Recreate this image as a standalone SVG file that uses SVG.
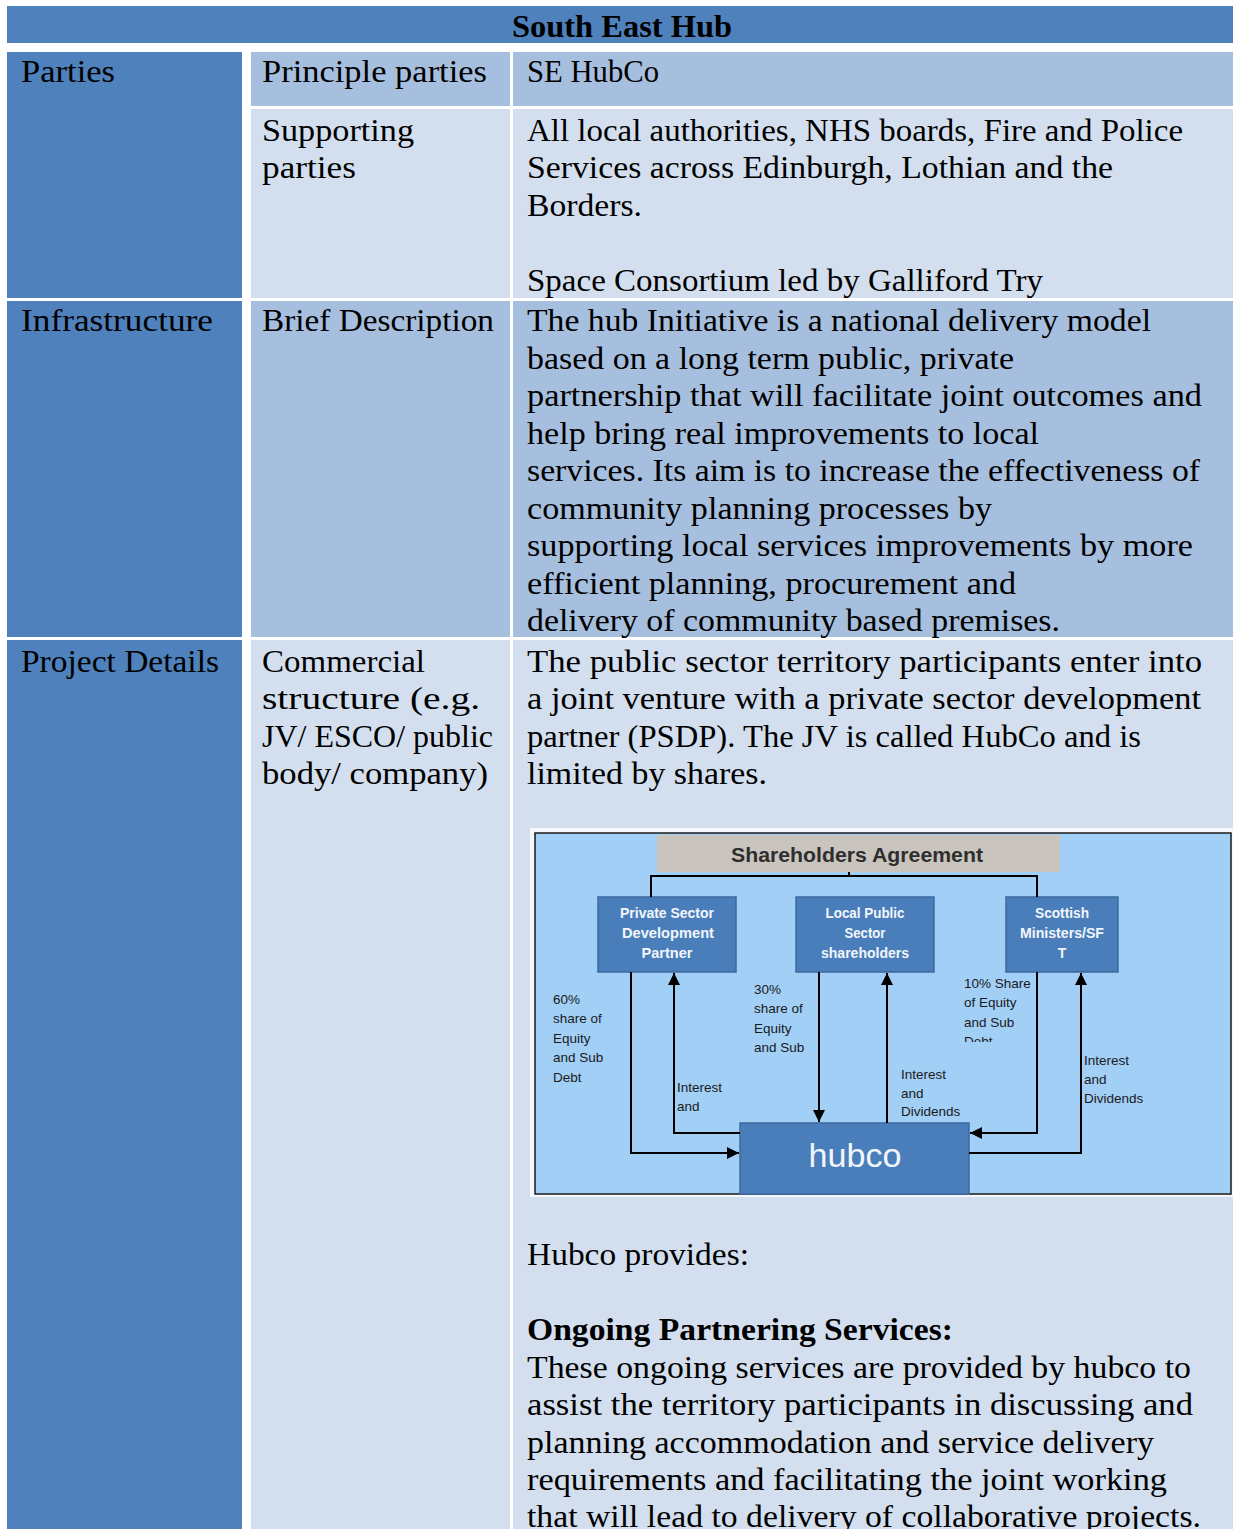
<svg xmlns="http://www.w3.org/2000/svg" width="1233" height="1529" viewBox="0 0 1233 1529">
  <style>
    .dark { fill: #4f81bd; }
    .mid { fill: #a7bfde; }
    .light { fill: #d3dfee; }
    .t { font-family: "Liberation Serif", "DejaVu Serif", serif; font-size: 32px; fill: #000; }
    .tb { font-family: "Liberation Serif", "DejaVu Serif", serif; font-size: 32px; font-weight: bold; fill: #000; }
    .box { fill: #4a7ebb; stroke: #3c699f; stroke-width: 1.5; }
    .bl { font-family: "Liberation Sans", Arial, sans-serif; font-size: 14px; font-weight: bold; fill: #f2f6fb; text-anchor: middle; }
    .lb { font-family: "Liberation Sans", Arial, sans-serif; font-size: 13.5px; fill: #1a1a1a; }
    .wire { fill: none; stroke: #000; stroke-width: 2; }
  </style>
  <defs>
    <marker id="ah" viewBox="0 0 10 10" refX="10" refY="5" markerWidth="6" markerHeight="6" orient="auto">
      <path d="M0,0 L10,5 L0,10 z" fill="#000"/>
    </marker>
    <clipPath id="clipDebt">
      <rect x="955" y="1030" width="80" height="12"/>
    </clipPath>
  </defs>

  <rect width="1233" height="1529" fill="#ffffff"/>

  <!-- Title bar -->
  <g id="title">
    <rect class="dark" x="7" y="6" width="1226" height="37"/>
    <text class="tb" x="622" y="37" text-anchor="middle" font-size="30" textLength="220" lengthAdjust="spacingAndGlyphs">South East Hub</text>
  </g>

  <!-- Parties -->
  <g id="parties">
    <rect class="dark" x="7" y="52" width="235" height="246"/>
    <text class="t" x="21" y="82" textLength="94" lengthAdjust="spacingAndGlyphs">Parties</text>
  </g>
  <g id="principle-parties">
    <rect class="mid" x="251" y="52" width="259" height="54"/>
    <rect class="mid" x="513" y="52" width="720" height="54"/>
    <text class="t" x="262" y="82" textLength="225" lengthAdjust="spacingAndGlyphs">Principle parties</text>
    <text class="t" x="527" y="82" textLength="132" lengthAdjust="spacingAndGlyphs">SE HubCo</text>
  </g>
  <g id="supporting-parties">
    <rect class="light" x="251" y="109" width="259" height="189"/>
    <rect class="light" x="513" y="109" width="720" height="189"/>
    <text class="t" x="262" y="141" textLength="152" lengthAdjust="spacingAndGlyphs">Supporting</text>
    <text class="t" x="262" y="178" textLength="94" lengthAdjust="spacingAndGlyphs">parties</text>
    <text class="t" x="527" y="141" textLength="656" lengthAdjust="spacingAndGlyphs">All local authorities, NHS boards, Fire and Police</text>
    <text class="t" x="527" y="178" textLength="586" lengthAdjust="spacingAndGlyphs">Services across Edinburgh, Lothian and the</text>
    <text class="t" x="527" y="216" textLength="115" lengthAdjust="spacingAndGlyphs">Borders.</text>
    <text class="t" x="527" y="291" textLength="516" lengthAdjust="spacingAndGlyphs">Space Consortium led by Galliford Try</text>
  </g>

  <!-- Infrastructure -->
  <g id="infrastructure">
    <rect class="dark" x="7" y="301" width="235" height="336"/>
    <rect class="mid" x="251" y="301" width="259" height="336"/>
    <rect class="mid" x="513" y="301" width="720" height="336"/>
    <text class="t" x="21" y="331" textLength="192" lengthAdjust="spacingAndGlyphs">Infrastructure</text>
    <text class="t" x="262" y="331" textLength="232" lengthAdjust="spacingAndGlyphs">Brief Description</text>
    <text class="t" x="527" y="331" textLength="624" lengthAdjust="spacingAndGlyphs">The hub Initiative is a national delivery model</text>
    <text class="t" x="527" y="369" textLength="487" lengthAdjust="spacingAndGlyphs">based on a long term public, private</text>
    <text class="t" x="527" y="406" textLength="675" lengthAdjust="spacingAndGlyphs">partnership that will facilitate joint outcomes and</text>
    <text class="t" x="527" y="444" textLength="512" lengthAdjust="spacingAndGlyphs">help bring real improvements to local</text>
    <text class="t" x="527" y="481" textLength="673" lengthAdjust="spacingAndGlyphs">services. Its aim is to increase the effectiveness of</text>
    <text class="t" x="527" y="519" textLength="465" lengthAdjust="spacingAndGlyphs">community planning processes by</text>
    <text class="t" x="527" y="556" textLength="666" lengthAdjust="spacingAndGlyphs">supporting local services improvements by more</text>
    <text class="t" x="527" y="594" textLength="489" lengthAdjust="spacingAndGlyphs">efficient planning, procurement and</text>
    <text class="t" x="527" y="631" textLength="533" lengthAdjust="spacingAndGlyphs">delivery of community based premises.</text>
  </g>

  <!-- Project details -->
  <g id="project-details">
    <rect class="dark" x="7" y="640" width="235" height="889"/>
    <rect class="light" x="251" y="640" width="259" height="889"/>
    <rect class="light" x="513" y="640" width="720" height="889"/>
    <text class="t" x="21" y="672" textLength="198" lengthAdjust="spacingAndGlyphs">Project Details</text>
    <text class="t" x="262" y="672" textLength="163" lengthAdjust="spacingAndGlyphs">Commercial</text>
    <text class="t" x="262" y="709" textLength="218" lengthAdjust="spacingAndGlyphs">structure (e.g.</text>
    <text class="t" x="262" y="747" textLength="231" lengthAdjust="spacingAndGlyphs">JV/ ESCO/ public</text>
    <text class="t" x="262" y="784" textLength="226" lengthAdjust="spacingAndGlyphs">body/ company)</text>
    <text class="t" x="527" y="672" textLength="675" lengthAdjust="spacingAndGlyphs">The public sector territory participants enter into</text>
    <text class="t" x="527" y="709" textLength="674" lengthAdjust="spacingAndGlyphs">a joint venture with a private sector development</text>
    <text class="t" x="527" y="747" textLength="614" lengthAdjust="spacingAndGlyphs">partner (PSDP). The JV is called HubCo and is</text>
    <text class="t" x="527" y="784" textLength="240" lengthAdjust="spacingAndGlyphs">limited by shares.</text>

    <text class="t" x="527" y="1265" textLength="222" lengthAdjust="spacingAndGlyphs">Hubco provides:</text>
    <text class="tb" x="527" y="1340" textLength="426" lengthAdjust="spacingAndGlyphs">Ongoing Partnering Services:</text>
    <text class="t" x="527" y="1378" textLength="664" lengthAdjust="spacingAndGlyphs">These ongoing services are provided by hubco to</text>
    <text class="t" x="527" y="1415" textLength="666" lengthAdjust="spacingAndGlyphs">assist the territory participants in discussing and</text>
    <text class="t" x="527" y="1453" textLength="627" lengthAdjust="spacingAndGlyphs">planning accommodation and service delivery</text>
    <text class="t" x="527" y="1490" textLength="640" lengthAdjust="spacingAndGlyphs">requirements and facilitating the joint working</text>
    <text class="t" x="527" y="1527" textLength="674" lengthAdjust="spacingAndGlyphs">that will lead to delivery of collaborative projects.</text>
  </g>

  <!-- Shareholder structure chart -->
  <g id="chart-frame">
    <rect x="530" y="828" width="703" height="369" fill="#f4f7fb"/>
    <rect x="535" y="833" width="696" height="361" fill="#a2cff6" stroke="#1a1a1a" stroke-width="1.5"/>
  </g>

  <g id="shareholders-agreement">
    <rect x="657" y="835" width="403" height="37" fill="#c9c5be"/>
    <text x="857" y="862" font-family="Liberation Sans, Arial, sans-serif" font-size="20" font-weight="bold" fill="#2e2e2e" text-anchor="middle" textLength="252" lengthAdjust="spacingAndGlyphs">Shareholders Agreement</text>
  </g>

  <g id="psdp">
    <rect class="box" x="598" y="897" width="138" height="75"/>
    <text class="bl" x="667" y="918" textLength="94" lengthAdjust="spacingAndGlyphs">Private Sector</text>
    <text class="bl" x="668" y="938" textLength="92" lengthAdjust="spacingAndGlyphs">Development</text>
    <text class="bl" x="667" y="958" textLength="51" lengthAdjust="spacingAndGlyphs">Partner</text>
  </g>

  <g id="local-public">
    <rect class="box" x="796" y="897" width="138" height="75"/>
    <text class="bl" x="865" y="918" textLength="79" lengthAdjust="spacingAndGlyphs">Local Public</text>
    <text class="bl" x="865" y="938" textLength="41" lengthAdjust="spacingAndGlyphs">Sector</text>
    <text class="bl" x="865" y="958" textLength="88" lengthAdjust="spacingAndGlyphs">shareholders</text>
  </g>

  <g id="scottish-ministers">
    <rect class="box" x="1006" y="897" width="112" height="75"/>
    <text class="bl" x="1062" y="918" textLength="54" lengthAdjust="spacingAndGlyphs">Scottish</text>
    <text class="bl" x="1062" y="938" textLength="84" lengthAdjust="spacingAndGlyphs">Ministers/SF</text>
    <text class="bl" x="1062" y="958">T</text>
  </g>

  <g id="hubco">
    <rect class="box" x="740" y="1123" width="229" height="71"/>
    <text x="855" y="1167" font-family="Liberation Sans, Arial, sans-serif" font-size="34" fill="#f2f6fb" text-anchor="middle" textLength="93" lengthAdjust="spacingAndGlyphs">hubco</text>
  </g>

  <g id="connectors">
    <!-- agreement bracket -->
    <path class="wire" d="M651,897 V876 H1037 V897 M849,872 V876"/>
    <!-- private partner -->
    <path class="wire" d="M631,972 V1153 H739" marker-end="url(#ah)"/>
    <path class="wire" d="M740,1133 H674 V973" marker-end="url(#ah)"/>
    <!-- local public sector -->
    <path class="wire" d="M819,972 V1122" marker-end="url(#ah)"/>
    <path class="wire" d="M887,1123 V973" marker-end="url(#ah)"/>
    <!-- Scottish Ministers -->
    <path class="wire" d="M1037,972 V1133 H970" marker-end="url(#ah)"/>
    <path class="wire" d="M969,1153 H1081 V973" marker-end="url(#ah)"/>
  </g>

  <g id="flow-labels">
    <text class="lb" x="553" y="1004">60%</text>
    <text class="lb" x="553" y="1023">share of</text>
    <text class="lb" x="553" y="1043">Equity</text>
    <text class="lb" x="553" y="1062">and Sub</text>
    <text class="lb" x="553" y="1082">Debt</text>

    <text class="lb" x="754" y="994">30%</text>
    <text class="lb" x="754" y="1013">share of</text>
    <text class="lb" x="754" y="1033">Equity</text>
    <text class="lb" x="754" y="1052">and Sub</text>

    <text class="lb" x="677" y="1092">Interest</text>
    <text class="lb" x="677" y="1111">and</text>

    <text class="lb" x="901" y="1079">Interest</text>
    <text class="lb" x="901" y="1098">and</text>
    <text class="lb" x="901" y="1116">Dividends</text>

    <text class="lb" x="964" y="988">10% Share</text>
    <text class="lb" x="964" y="1007">of Equity</text>
    <text class="lb" x="964" y="1027">and Sub</text>
    <text class="lb" x="964" y="1046" clip-path="url(#clipDebt)">Debt</text>

    <text class="lb" x="1084" y="1065">Interest</text>
    <text class="lb" x="1084" y="1084">and</text>
    <text class="lb" x="1084" y="1103">Dividends</text>
  </g>
</svg>
